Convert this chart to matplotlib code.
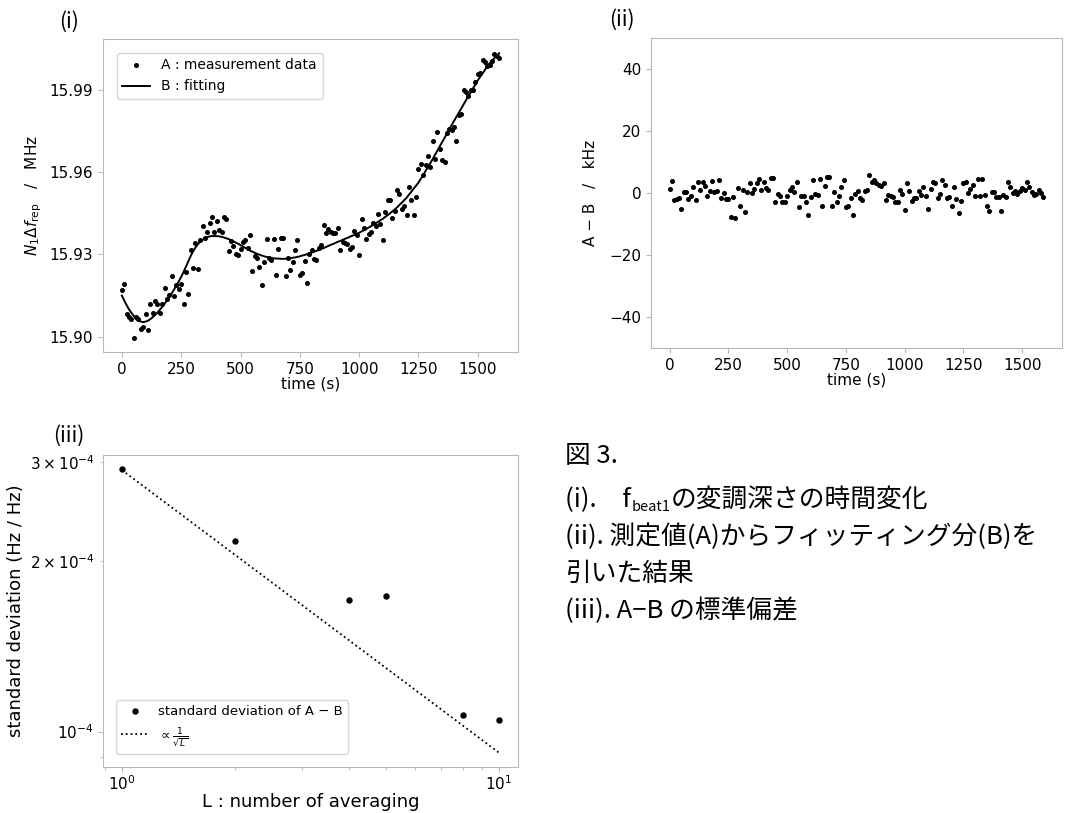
import numpy as np
import matplotlib
matplotlib.use('Agg')
import matplotlib.pyplot as plt

plt.rcParams.update({'font.size': 11})
plt.rcParams['font.family'] = ['DejaVu Sans']
plt.rcParams['mathtext.fontset'] = 'dejavusans'

# time axis of the measurement (s)
t_sec = np.arange(0, 1600, 10)

# (i) A : measured N1*dfrep (MHz)
meas_mhz = [
    15.9171, 15.9192, 15.9083, 15.9073, 15.9064, 15.8996, 15.9071, 15.9065, 15.9028, 15.9037,
    15.9082, 15.9025, 15.9118, 15.9085, 15.9130, 15.9120, 15.9085, 15.9118, 15.9179, 15.9138,
    15.9153, 15.9221, 15.9150, 15.9187, 15.9174, 15.9191, 15.9121, 15.9237, 15.9155, 15.9318,
    15.9249, 15.9341, 15.9248, 15.9353, 15.9404, 15.9359, 15.9381, 15.9416, 15.9435, 15.9381,
    15.9421, 15.9389, 15.9381, 15.9436, 15.9431, 15.9314, 15.9348, 15.9332, 15.9301, 15.9297,
    15.9321, 15.9346, 15.9353, 15.9325, 15.9370, 15.9241, 15.9293, 15.9287, 15.9254, 15.9190,
    15.9274, 15.9356, 15.9286, 15.9278, 15.9355, 15.9224, 15.9321, 15.9361, 15.9359, 15.9223,
    15.9288, 15.9243, 15.9272, 15.9316, 15.9354, 15.9224, 15.9233, 15.9276, 15.9195, 15.9300,
    15.9316, 15.9285, 15.9280, 15.9325, 15.9335, 15.9409, 15.9380, 15.9394, 15.9382, 15.9379,
    15.9378, 15.9396, 15.9318, 15.9346, 15.9341, 15.9339, 15.9319, 15.9326, 15.9386, 15.9371,
    15.9297, 15.9431, 15.9396, 15.9356, 15.9373, 15.9381, 15.9416, 15.9405, 15.9446, 15.9410,
    15.9354, 15.9455, 15.9499, 15.9498, 15.9433, 15.9458, 15.9535, 15.9519, 15.9464, 15.9477,
    15.9443, 15.9545, 15.9499, 15.9444, 15.9511, 15.9610, 15.9629, 15.9590, 15.9625, 15.9658,
    15.9620, 15.9714, 15.9648, 15.9748, 15.9685, 15.9646, 15.9637, 15.9744, 15.9759, 15.9754,
    15.9766, 15.9714, 15.9808, 15.9814, 15.9901, 15.9892, 15.9877, 15.9900, 15.9900, 15.9929,
    15.9959, 15.9963, 16.0011, 16.0002, 15.9988, 15.9990, 16.0004, 16.0031, 16.0024, 16.0016,
]

# (i) B : fitting curve (MHz)
fit_mhz = [
    15.9150, 15.9132, 15.9115, 15.9100, 15.9087, 15.9076, 15.9066, 15.9059, 15.9055, 15.9053,
    15.9055, 15.9058, 15.9064, 15.9071, 15.9079, 15.9088, 15.9098, 15.9109, 15.9120, 15.9132,
    15.9144, 15.9158, 15.9172, 15.9187, 15.9202, 15.9218, 15.9236, 15.9255, 15.9275, 15.9294,
    15.9311, 15.9325, 15.9337, 15.9346, 15.9353, 15.9359, 15.9363, 15.9366, 15.9367, 15.9367,
    15.9367, 15.9366, 15.9364, 15.9362, 15.9359, 15.9356, 15.9352, 15.9348, 15.9343, 15.9339,
    15.9334, 15.9329, 15.9324, 15.9319, 15.9314, 15.9310, 15.9306, 15.9302, 15.9299, 15.9296,
    15.9293, 15.9291, 15.9289, 15.9287, 15.9286, 15.9285, 15.9285, 15.9284, 15.9284, 15.9284,
    15.9285, 15.9286, 15.9288, 15.9289, 15.9291, 15.9293, 15.9296, 15.9298, 15.9301, 15.9304,
    15.9307, 15.9310, 15.9313, 15.9316, 15.9320, 15.9323, 15.9327, 15.9331, 15.9335, 15.9338,
    15.9342, 15.9346, 15.9349, 15.9353, 15.9357, 15.9360, 15.9364, 15.9368, 15.9371, 15.9375,
    15.9379, 15.9384, 15.9388, 15.9393, 15.9398, 15.9403, 15.9408, 15.9414, 15.9419, 15.9425,
    15.9430, 15.9437, 15.9443, 15.9450, 15.9457, 15.9464, 15.9472, 15.9481, 15.9489, 15.9498,
    15.9507, 15.9518, 15.9529, 15.9540, 15.9551, 15.9562, 15.9576, 15.9590, 15.9605, 15.9619,
    15.9633, 15.9648, 15.9664, 15.9679, 15.9695, 15.9710, 15.9725, 15.9741, 15.9756, 15.9772,
    15.9787, 15.9802, 15.9817, 15.9832, 15.9847, 15.9862, 15.9877, 15.9891, 15.9906, 15.9920,
    15.9935, 15.9948, 15.9960, 15.9973, 15.9985, 15.9998, 16.0007, 16.0016, 16.0025, 16.0034,
]

# (ii) A - B (kHz)
resid_khz = [
    1.4, 4.0, -2.1, -1.8, -1.5, -5.3, 0.3, 0.4, -1.8, -1.1,
    1.8, -2.2, 3.6, 0.9, 3.4, 2.1, -0.9, 0.6, 3.9, 0.4,
    0.6, 4.2, -1.5, 0.0, -1.9, -1.8, -7.7, -1.2, -8.0, 1.5,
    -4.3, 0.9, -6.0, 0.4, 3.3, 0.0, 1.2, 3.3, 4.5, 0.9,
    3.6, 1.5, 1.1, 4.9, 4.8, -2.8, -0.3, -1.1, -2.8, -2.8,
    -0.9, 1.1, 1.9, 0.4, 3.7, -4.6, -0.9, -1.0, -3.0, -7.1,
    -1.3, 4.3, -0.2, -0.6, 4.6, -4.1, 2.4, 5.1, 5.0, -4.1,
    0.2, -2.9, -1.1, 1.8, 4.2, -4.6, -4.2, -1.5, -7.1, -0.3,
    0.6, -1.7, -2.2, 0.6, 1.0, 5.7, 3.5, 4.2, 3.1, 2.7,
    2.4, 3.3, -2.1, -0.5, -1.1, -1.4, -3.0, -2.8, 1.0, -0.3,
    -5.5, 3.1, 0.5, -2.5, -1.7, -1.5, 0.5, -0.6, 1.8, -1.0,
    -5.1, 1.2, 3.7, 3.2, -1.6, -0.4, 4.2, 2.5, -1.7, -1.4,
    -4.3, 1.8, -2.0, -6.4, -2.7, 3.2, 3.5, 0.0, 1.3, 2.6,
    -0.9, 4.4, -1.1, 4.6, -0.7, -4.3, -5.9, 0.2, 0.2, -1.2,
    -1.4, -5.9, -0.6, -1.2, 3.6, 2.0, 0.0, 0.6, -0.4, 0.6,
    1.6, 1.0, 3.4, 1.9, 0.2, -0.5, -0.2, 1.0, -0.1, -1.2,
]

# (iii) standard deviation vs number of averaging
avg_L = [1, 2, 4, 5, 8, 10]
std_dev = [2.91e-4, 2.17e-4, 1.71e-4, 1.74e-4, 1.07e-4, 1.05e-4]
prop_coef = 2.9e-4   # scale of the 1/sqrt(L) guide line

time_ticks = [0, 250, 500, 750, 1000, 1250, 1500]
cap_font = ['Noto Sans CJK JP', 'DejaVu Sans']


def style(ax):
    for s in ax.spines.values():
        s.set_color('#b8b8b8')
    ax.tick_params(which='both', color='#b8b8b8', labelsize=11)


W, H = 1080, 813
fig = plt.figure(figsize=(W / 100, H / 100), dpi=100)

# ---- (i)
ax1 = fig.add_axes([103 / W, 1 - 352 / H, 415 / W, 313 / H])
ax1.plot(t_sec, meas_mhz, 'o', color='black', ms=2.6, label='A : measurement data')
ax1.plot(t_sec, fit_mhz, '-', color='black', lw=1.4, label='B : fitting')
ax1.set_xticks(time_ticks)
ax1.set_yticks([15.90, 15.93, 15.96, 15.99])
ax1.ticklabel_format(axis='y', useOffset=False)
ax1.set_xlabel('time (s)', labelpad=0)
ax1.set_ylabel(r'$N_1\Delta f_{\rm rep}$   /   MHz')
ax1.legend(loc='upper left', fontsize=10, borderaxespad=1.0)
style(ax1)

# ---- (ii)
ax2 = fig.add_axes([651 / W, 1 - 348 / H, 411 / W, 310 / H])
ax2.plot(t_sec, resid_khz, 'o', color='black', ms=2.6)
ax2.set_ylim(-50, 50)
ax2.set_yticks([-40, -20, 0, 20, 40])
ax2.set_xticks(time_ticks)
ax2.set_xlabel('time (s)', labelpad=0)
ax2.set_ylabel('A − B   /   kHz', labelpad=8)
style(ax2)

# ---- (iii)
ax3 = fig.add_axes([103 / W, 1 - 767 / H, 415 / W, 312 / H])
ax3.plot(avg_L, std_dev, 'o', color='black', ms=3.6, label='standard deviation of A − B')
ax3.plot(avg_L, prop_coef / np.sqrt(avg_L), ':', color='black', lw=1.3,
         label=r'$\propto\frac{1}{\sqrt{L}}$')
ax3.set_xscale('log')
ax3.set_yscale('log')
ax3.set_xlabel('L : number of averaging', fontsize=13, labelpad=0)
ax3.set_ylabel('standard deviation (Hz / Hz)', fontsize=13)
ax3.legend(loc='lower left', fontsize=9.5, borderaxespad=1.0)
style(ax3)
ax3.tick_params(axis='x', which='both', pad=2)

# ---- panel letters
fig.text(69 / W, 1 - 22 / H, '(i)', fontsize=15, family=cap_font, ha='center', va='center')
fig.text(622 / W, 1 - 20 / H, '(ii)', fontsize=15, family=cap_font, ha='center', va='center')
fig.text(69 / W, 1 - 436 / H, '(iii)', fontsize=15, family=cap_font, ha='center', va='center')

# ---- caption
cap = fig.add_axes([0, 0, 1, 1])
cap.axis('off')
x0 = 565 / W
cs = 18.5


def line_y(yc):
    return 1 - (yc + 8) / H


cap.text(x0, line_y(455), '図 3.', fontsize=cs, family=cap_font, va='baseline')
y_i = line_y(499)
t1 = cap.text(x0, y_i, '(i).\u3000f', fontsize=cs, family=cap_font, va='baseline')
t2 = cap.annotate('beat1', xy=(1.0, y_i), xycoords=(t1, 'axes fraction'),
                  xytext=(0.5, -3), textcoords='offset points',
                  fontsize=10.5, family=cap_font, va='baseline')
cap.annotate('の変調深さの時間変化', xy=(1.0, y_i), xycoords=(t2, 'axes fraction'),
             xytext=(0.5, 0), textcoords='offset points',
             fontsize=cs, family=cap_font, va='baseline')
cap.text(x0, line_y(536), '(ii). 測定値(A)からフィッティング分(B)を', fontsize=cs,
         family=cap_font, va='baseline')
cap.text(x0, line_y(573), '引いた結果', fontsize=cs, family=cap_font, va='baseline')
cap.text(x0, line_y(610), '(iii). A−B の標準偏差', fontsize=cs, family=cap_font, va='baseline')

fig.savefig('out.png', dpi=100)
